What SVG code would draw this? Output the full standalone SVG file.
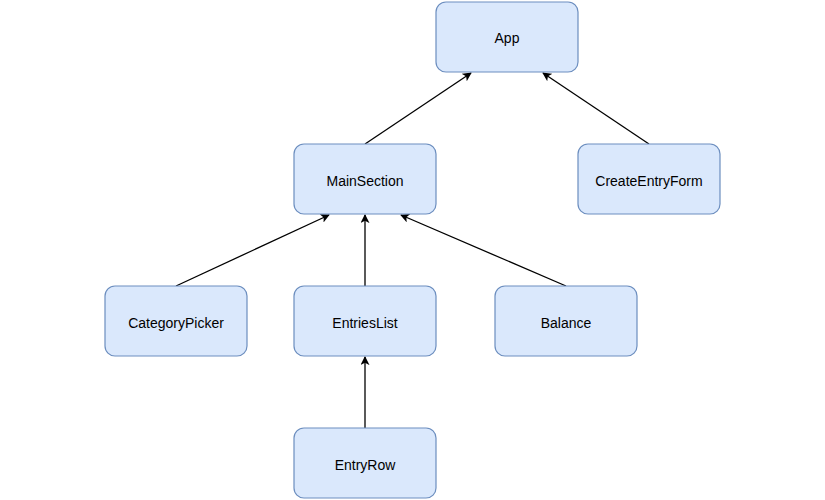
<svg xmlns="http://www.w3.org/2000/svg" width="825" height="500" viewBox="0 0 825 500">
<style>
.node rect{fill:#dae8fc;stroke:#6c8ebf;stroke-width:1.2}
.node text{font-family:"Liberation Sans",Arial,sans-serif;font-size:14px;fill:#000;text-anchor:middle;dominant-baseline:central}
.edges line{stroke:#000;stroke-width:1.3;marker-end:url(#arr)}
</style>
<defs>
<marker id="arr" viewBox="0 0 10 10" refX="9" refY="5" markerWidth="9" markerHeight="9" markerUnits="userSpaceOnUse" orient="auto">
<path d="M0,0 L10,5 L0,10 L2.5,5 Z" fill="#000"/>
</marker>
</defs>
<rect width="825" height="500" fill="#fff"/>
<g class="edges">
<line x1="365" y1="144" x2="471" y2="73"/>
<line x1="649" y1="144" x2="543" y2="73"/>
<line x1="176" y1="286" x2="329" y2="215"/>
<line x1="365" y1="286" x2="365" y2="215"/>
<line x1="566" y1="286" x2="401" y2="215"/>
<line x1="365" y1="428" x2="365" y2="357"/>
</g>
<g id="App" class="node"><rect x="436" y="2" width="142" height="70" rx="10"/><text x="507" y="38">App</text></g>
<g id="MainSection" class="node"><rect x="294" y="144" width="142" height="70" rx="10"/><text x="365" y="181">MainSection</text></g>
<g id="CreateEntryForm" class="node"><rect x="578" y="144" width="142" height="70" rx="10"/><text x="649" y="181">CreateEntryForm</text></g>
<g id="CategoryPicker" class="node"><rect x="105" y="286" width="142" height="70" rx="10"/><text x="176" y="323">CategoryPicker</text></g>
<g id="EntriesList" class="node"><rect x="294" y="286" width="142" height="70" rx="10"/><text x="365" y="323">EntriesList</text></g>
<g id="Balance" class="node"><rect x="495" y="286" width="142" height="70" rx="10"/><text x="566" y="323">Balance</text></g>
<g id="EntryRow" class="node"><rect x="294" y="428" width="142" height="70" rx="10"/><text x="365" y="465">EntryRow</text></g>
</svg>
